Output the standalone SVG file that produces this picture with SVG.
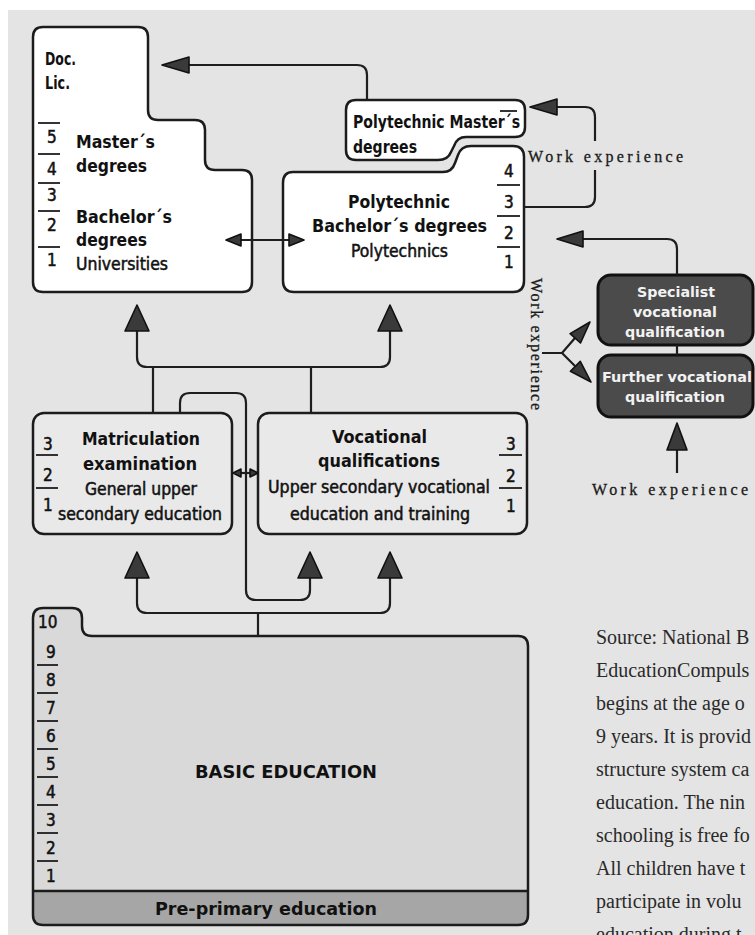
<svg xmlns="http://www.w3.org/2000/svg" width="755" height="935" viewBox="0 0 755 935">
<style>
.box{stroke:#1c1c1c;stroke-width:2.5;stroke-linejoin:round}
.w{fill:#ffffff}
.g{fill:#e9e9e9}
.dk{fill:#4b4b4b;stroke:#111;stroke-width:3}
.ln{fill:none;stroke:#1e1e1e;stroke-width:2.2;stroke-linejoin:round}
.tk{stroke:#1e1e1e;stroke-width:1.8}
.ah{fill:#3a3a3a;stroke:#111;stroke-width:1.6;stroke-linejoin:round}
.b{font-family:"Liberation Sans Narrow","DejaVu Sans Condensed","Liberation Sans",sans-serif;font-weight:bold;font-size:17px;fill:#111}
.r{font-family:"Liberation Sans Narrow","DejaVu Sans Condensed","Liberation Sans",sans-serif;font-weight:normal;font-size:17px;fill:#111;stroke:#111;stroke-width:0.5}
.wt{font-family:"Liberation Sans Narrow","DejaVu Sans Condensed","Liberation Sans",sans-serif;font-weight:bold;font-size:14px;fill:#f2f2f2}
.s{font-family:"Liberation Serif","DejaVu Serif",serif;font-size:16px;fill:#1a1a1a;stroke:#1a1a1a;stroke-width:0.3}
.src{font-family:"Liberation Serif","DejaVu Serif",serif;font-size:20px;fill:#2a2a2a}
</style>
<rect x="0" y="0" width="755" height="935" fill="#ffffff"/>
<rect x="8" y="10" width="747" height="925" fill="#e4e4e4"/>

<g id="universities">
<path class="box w" d="M43,27 H138 Q148,27 148,37 V110 Q148,120 158,120 H195 Q205,120 205,130 V160 Q205,170 215,170 H242 Q252,170 252,180 V282 Q252,292 242,292 H43 Q33,292 33,282 V37 Q33,27 43,27 Z"/>
<text class="b" x="45" y="65" textLength="31" lengthAdjust="spacingAndGlyphs">Doc.</text>
<text class="b" x="45" y="89" textLength="25" lengthAdjust="spacingAndGlyphs">Lic.</text>
<line class="tk" x1="38" y1="123" x2="60" y2="123"/>
<line class="tk" x1="38" y1="154" x2="60" y2="154"/>
<line class="tk" x1="38" y1="183" x2="60" y2="183"/>
<line class="tk" x1="38" y1="211" x2="60" y2="211"/>
<line class="tk" x1="38" y1="247" x2="60" y2="247"/>
<text class="r" x="47" y="143">5</text>
<text class="r" x="47" y="175">4</text>
<text class="r" x="47" y="201">3</text>
<text class="r" x="47" y="231">2</text>
<text class="r" x="47" y="266">1</text>
<text class="b" x="76" y="148" textLength="79" lengthAdjust="spacingAndGlyphs">Master´s</text>
<text class="b" x="76" y="172" textLength="71" lengthAdjust="spacingAndGlyphs">degrees</text>
<text class="b" x="76" y="223" textLength="96" lengthAdjust="spacingAndGlyphs">Bachelor´s</text>
<text class="b" x="76" y="246" textLength="71" lengthAdjust="spacingAndGlyphs">degrees</text>
<text class="r" x="76" y="270" textLength="92" lengthAdjust="spacingAndGlyphs">Universities</text>
</g>

<g id="polytechnic-masters">
<path class="box w" d="M356,100 H515 Q525,100 525,110 V127 Q525,137 515,137 H466 Q457,137 454,146 L451,152 Q448,160 438,160 H356 Q346,160 346,150 V110 Q346,100 356,100 Z"/>
<line class="tk" x1="500" y1="111" x2="517" y2="111"/>
<text class="b" x="353" y="128" textLength="167" lengthAdjust="spacingAndGlyphs">Polytechnic Master´s</text>
<text class="b" x="353" y="153" textLength="64" lengthAdjust="spacingAndGlyphs">degrees</text>
</g>

<g id="polytechnic-bachelors">
<path class="box w" d="M293,172 H443 Q452,172 455,163 L458,155 Q461,146 471,146 H513 Q524,146 524,157 V281 Q524,292 513,292 H294 Q283,292 283,281 V183 Q283,172 293,172 Z"/>
<text class="b" x="348" y="208" textLength="102" lengthAdjust="spacingAndGlyphs">Polytechnic</text>
<text class="b" x="312" y="232" textLength="175" lengthAdjust="spacingAndGlyphs">Bachelor´s degrees</text>
<text class="r" x="351" y="257" textLength="97" lengthAdjust="spacingAndGlyphs">Polytechnics</text>
<line class="tk" x1="497" y1="185" x2="520" y2="185"/>
<line class="tk" x1="497" y1="216" x2="520" y2="216"/>
<line class="tk" x1="497" y1="247" x2="520" y2="247"/>
<text class="r" x="504" y="177">4</text>
<text class="r" x="504" y="208">3</text>
<text class="r" x="504" y="239">2</text>
<text class="r" x="504" y="268">1</text>
</g>

<g id="work-experience-labels">
<text class="s" x="528" y="162" textLength="155" lengthAdjust="spacing">Work experience</text>
<text class="s" transform="translate(531,278) rotate(90)" x="0" y="0" textLength="132" lengthAdjust="spacing">Work experience</text>
<text class="s" x="592" y="495" textLength="156" lengthAdjust="spacing">Work experience</text>
</g>

<g id="specialist">
<rect class="dk" x="598" y="275" width="155" height="70" rx="13"/>
<text class="wt" x="637" y="297" textLength="78" lengthAdjust="spacingAndGlyphs">Specialist</text>
<text class="wt" x="633" y="317" textLength="84" lengthAdjust="spacingAndGlyphs">vocational</text>
<text class="wt" x="625" y="337" textLength="100" lengthAdjust="spacingAndGlyphs">qualification</text>
</g>

<g id="further">
<rect class="dk" x="598" y="355" width="155" height="62" rx="13"/>
<text class="wt" x="602" y="382" textLength="150" lengthAdjust="spacingAndGlyphs">Further vocational</text>
<text class="wt" x="625" y="402" textLength="100" lengthAdjust="spacingAndGlyphs">qualification</text>
</g>

<g id="matriculation">
<rect class="box g" x="33" y="413" width="199" height="121" rx="11"/>
<line class="tk" x1="36" y1="455" x2="58" y2="455"/>
<line class="tk" x1="36" y1="488" x2="58" y2="488"/>
<text class="r" x="43" y="450">3</text>
<text class="r" x="43" y="481">2</text>
<text class="r" x="43" y="511">1</text>
<text class="b" x="82" y="445" textLength="118" lengthAdjust="spacingAndGlyphs">Matriculation</text>
<text class="b" x="83" y="470" textLength="114" lengthAdjust="spacingAndGlyphs">examination</text>
<text class="r" x="85" y="495" textLength="112" lengthAdjust="spacingAndGlyphs">General upper</text>
<text class="r" x="58" y="520" textLength="164" lengthAdjust="spacingAndGlyphs">secondary education</text>
</g>

<g id="vocational">
<rect class="box g" x="258" y="413" width="269" height="121" rx="11"/>
<text class="b" x="332" y="443" textLength="95" lengthAdjust="spacingAndGlyphs">Vocational</text>
<text class="b" x="318" y="467" textLength="122" lengthAdjust="spacingAndGlyphs">qualifications</text>
<text class="r" x="268" y="493" textLength="222" lengthAdjust="spacingAndGlyphs">Upper secondary vocational</text>
<text class="r" x="290" y="520" textLength="180" lengthAdjust="spacingAndGlyphs">education and training</text>
<line class="tk" x1="499" y1="455" x2="522" y2="455"/>
<line class="tk" x1="499" y1="488" x2="522" y2="488"/>
<text class="r" x="506" y="450">3</text>
<text class="r" x="506" y="482">2</text>
<text class="r" x="506" y="512">1</text>
</g>

<g id="basic-education">
<path d="M33,618 Q33,608 43,608 H72 Q82,608 82,618 V626 Q82,636 92,636 H518 Q528,636 528,646 V915 Q528,925 518,925 H43 Q33,925 33,915 Z" fill="#d9d9d9"/>
<path d="M33,891 H528 V915 Q528,925 518,925 H43 Q33,925 33,915 Z" fill="#a6a6a6"/>
<line x1="33" y1="891" x2="528" y2="891" stroke="#1c1c1c" stroke-width="2.5"/>
<path class="box" fill="none" d="M33,618 Q33,608 43,608 H72 Q82,608 82,618 V626 Q82,636 92,636 H518 Q528,636 528,646 V915 Q528,925 518,925 H43 Q33,925 33,915 Z"/>
<text class="r" x="38" y="628">10</text>
<text class="r" x="46" y="658">9</text>
<text class="r" x="46" y="686">8</text>
<text class="r" x="46" y="714">7</text>
<text class="r" x="46" y="742">6</text>
<text class="r" x="46" y="770">5</text>
<text class="r" x="46" y="798">4</text>
<text class="r" x="46" y="826">3</text>
<text class="r" x="46" y="854">2</text>
<text class="r" x="46" y="882">1</text>
<line class="tk" x1="37" y1="665" x2="58" y2="665"/>
<line class="tk" x1="37" y1="693" x2="58" y2="693"/>
<line class="tk" x1="37" y1="721" x2="58" y2="721"/>
<line class="tk" x1="37" y1="749" x2="58" y2="749"/>
<line class="tk" x1="37" y1="777" x2="58" y2="777"/>
<line class="tk" x1="37" y1="805" x2="58" y2="805"/>
<line class="tk" x1="37" y1="833" x2="58" y2="833"/>
<line class="tk" x1="37" y1="861" x2="58" y2="861"/>
<text class="b" x="195" y="778" textLength="182" lengthAdjust="spacingAndGlyphs">BASIC EDUCATION</text>
<text class="b" x="155" y="915" font-size="18" textLength="222" lengthAdjust="spacingAndGlyphs">Pre-primary education</text>
</g>

<g id="connectors">
<path class="ln" d="M367,100 V75 Q367,65 357,65 H188"/>
<polygon class="ah" points="162,65 189,57 189,73"/>
<path class="ln" d="M524,207 H585 Q595,207 595,197 V170 M595,141 V117 Q595,107 585,107 H556"/>
<polygon class="ah" points="530,107 557,99 557,115"/>
<path class="ln" d="M677,275 V249 Q677,239 667,239 H581"/>
<polygon class="ah" points="557,239 583,231 583,247"/>
<path class="ln" d="M677,345 V355"/>
<path class="ln" d="M677,473 V448"/>
<polygon class="ah" points="677,423 667,450 687,450"/>
<path class="ln" d="M238,240 H292"/>
<polygon class="ah" points="226,240 241,234 241,246"/>
<polygon class="ah" points="304,240 289,234 289,246"/>
<path class="ln" d="M542,353 H562 L575,338 M562,353 L575,366"/>
<polygon class="ah" points="590,322 580.5,343 570.1,333.6"/>
<polygon class="ah" points="591,382 570.4,371.3 580.3,361.4"/>
<path class="ln" d="M137,330 V357 Q137,367 147,367 H380 Q390,367 390,357 V330 M153,367 V413 M311,367 V413"/>
<polygon class="ah" points="137,305 125,331 149,331"/>
<polygon class="ah" points="390,305 378,331 402,331"/>
<path class="ln" d="M180,413 V403 Q180,393 190,393 H236 Q246,393 246,403 V590 Q246,600 256,600 H300 Q310,600 310,590 V576"/>
<path class="ln" d="M236,473 H255"/>
<polygon class="ah" points="233,473 241,469 241,477"/>
<polygon class="ah" points="258,473 250,469 250,477"/>
<path class="ln" d="M258,636 V613 M137,576 V603 Q137,613 147,613 H380 Q390,613 390,603 V576"/>
<polygon class="ah" points="137,552 125,578 149,578"/>
<polygon class="ah" points="310,552 298,578 322,578"/>
<polygon class="ah" points="390,552 378,578 402,578"/>
</g>

<g id="source-text">
<text class="src" x="596" y="644">Source: National B</text>
<text class="src" x="596" y="677">EducationCompuls</text>
<text class="src" x="596" y="710">begins at the age o</text>
<text class="src" x="596" y="743">9 years. It is provid</text>
<text class="src" x="596" y="776">structure system ca</text>
<text class="src" x="596" y="809">education. The nin</text>
<text class="src" x="596" y="842">schooling is free fo</text>
<text class="src" x="596" y="875">All children have t</text>
<text class="src" x="596" y="908">participate in volu</text>
<text class="src" x="596" y="941">education during t</text>
</g>
</svg>
